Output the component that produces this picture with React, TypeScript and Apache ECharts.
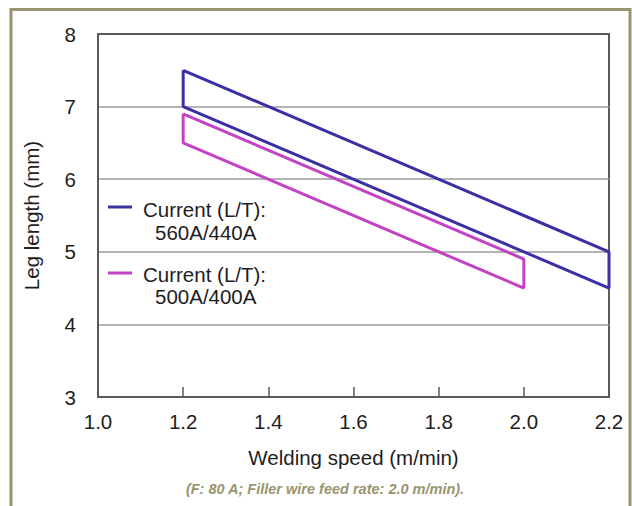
import React, { useEffect, useRef } from "react";
import * as echarts from "echarts";

const xTicks = [1.0, 1.2, 1.4, 1.6, 1.8, 2.0, 2.2];
const blueX = [1.2, 2.2, 2.2, 1.2, 1.2];
const blueY = [7.5, 5.0, 4.5, 7.0, 7.5];
const magentaX = [1.2, 2.0, 2.0, 1.2, 1.2];
const magentaY = [6.9, 4.9, 4.5, 6.5, 6.9];
const legendTitle = "Current (L/T):";
const blueLabel = "560A/440A";
const magentaLabel = "500A/400A";
const xName = "Welding speed (m/min)";
const yName = "Leg length (mm)";
const footnote = "(F: 80 A; Filler wire feed rate: 2.0 m/min).";

const BLUE = "#3a2fa5";
const MAGENTA = "#c442c4";
const FONT = "'Liberation Sans', Arial, sans-serif";
const OLIVE = "#9a9470";
const FS = 20.5;

export default function App() {
  const ref = useRef<HTMLDivElement>(null);
  useEffect(() => {
    document.body.style.margin = "0";
    const chart = echarts.init(ref.current!, undefined, { renderer: "svg" });
    const zip = (xs: number[], ys: number[]) => xs.map((x, i) => [x, ys[i]]);
    chart.setOption({
      animation: false,
      backgroundColor: "#ffffff",
      grid: {
        left: 98,
        right: 23,
        top: 34,
        bottom: 109,
        show: true,
        borderColor: "#5a5a5a",
        borderWidth: 2,
      },
      xAxis: {
        type: "value",
        min: xTicks[0],
        max: xTicks[xTicks.length - 1],
        interval: 0.2,
        name: xName,
        nameLocation: "middle",
        nameGap: 50,
        nameTextStyle: { fontSize: FS, color: "#1e1e1e", fontFamily: FONT },
        axisLine: { show: true, lineStyle: { color: "#5a5a5a", width: 2 } },
        axisTick: { show: true, inside: true, length: 10, lineStyle: { color: "#5a5a5a", width: 1.5 } },
        axisLabel: {
          fontSize: FS,
          color: "#1e1e1e",
          fontFamily: FONT,
          margin: 14,
          formatter: (v: number) => v.toFixed(1),
        },
        splitLine: { show: false },
      },
      yAxis: {
        type: "value",
        min: 3,
        max: 8,
        interval: 1,
        name: yName,
        nameLocation: "middle",
        nameGap: 56,
        nameTextStyle: { fontSize: FS, color: "#1e1e1e", fontFamily: FONT },
        axisLine: { show: true, lineStyle: { color: "#5a5a5a", width: 2 } },
        axisTick: { show: false },
        axisLabel: { fontSize: FS, color: "#1e1e1e", fontFamily: FONT, margin: 22 },
        splitLine: { show: true, showMinLine: false, showMaxLine: false, lineStyle: { color: "#9a9a9a", width: 1.5 } },
      },
      series: [
        {
          type: "line",
          name: `${legendTitle} ${magentaLabel}`,
          data: zip(magentaX, magentaY),
          showSymbol: false,
          symbol: "none",
          color: MAGENTA,
          lineStyle: { color: MAGENTA, width: 3 },
        },
        {
          type: "line",
          name: `${legendTitle} ${blueLabel}`,
          data: zip(blueX, blueY),
          showSymbol: false,
          symbol: "none",
          color: BLUE,
          lineStyle: { color: BLUE, width: 3 },
        },
      ],
      graphic: [
        {
          type: "rect",
          shape: { x: 11, y: 9.5, width: 619, height: 520 },
          style: { fill: "none", stroke: OLIVE, lineWidth: 3 },
          silent: true,
        },
        { type: "line", shape: { x1: 108, y1: 207, x2: 132, y2: 207 }, style: { stroke: BLUE, lineWidth: 3 } },
        { type: "text", x: 143, y: 209, style: { text: legendTitle, fontSize: FS, fontFamily: FONT, fill: "#1e1e1e", verticalAlign: "middle" } },
        { type: "text", x: 155, y: 232, style: { text: blueLabel, fontSize: FS, fontFamily: FONT, fill: "#1e1e1e", verticalAlign: "middle" } },
        { type: "line", shape: { x1: 108, y1: 273, x2: 132, y2: 273 }, style: { stroke: MAGENTA, lineWidth: 3 } },
        { type: "text", x: 143, y: 274, style: { text: legendTitle, fontSize: FS, fontFamily: FONT, fill: "#1e1e1e", verticalAlign: "middle" } },
        { type: "text", x: 155, y: 296, style: { text: magentaLabel, fontSize: FS, fontFamily: FONT, fill: "#1e1e1e", verticalAlign: "middle" } },
        {
          type: "text",
          x: 325,
          y: 489,
          style: {
            text: footnote,
            fontSize: 14.5,
            fontStyle: "italic",
            fontWeight: "bold",
            fontFamily: FONT,
            fill: OLIVE,
            align: "center",
            verticalAlign: "middle",
          },
        },
      ],
    });
    return () => chart.dispose();
  }, []);
  return <div ref={ref} style={{ width: 632, height: 506 }} />;
}
